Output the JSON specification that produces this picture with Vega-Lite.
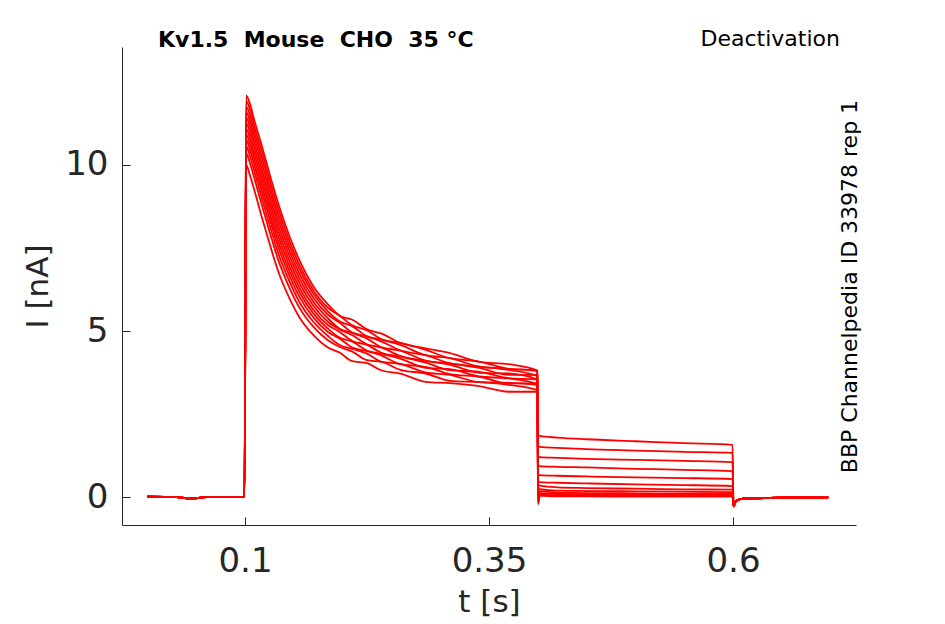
{
  "$schema": "https://vega.github.io/schema/vega-lite/v6.json",
  "width": 734,
  "height": 478,
  "autosize": "none",
  "padding": {"left": 122, "top": 47, "right": 89, "bottom": 99},
  "background": "white",
  "config": {
    "view": {"stroke": null},
    "font": "DejaVu Sans",
    "axis": {
      "grid": false,
      "domainColor": "#262626",
      "tickColor": "#262626",
      "labelColor": "#262626",
      "titleColor": "#262626",
      "labelFont": "DejaVu Sans",
      "titleFont": "DejaVu Sans",
      "labelFontSize": 34,
      "titleFontSize": 31,
      "titleFontWeight": "normal",
      "tickSize": -8,
      "domainWidth": 1,
      "tickWidth": 1
    }
  },
  "layer": [
    {
      "data": {"values": [
        {"s":1,"t":0,"v":0.01},{"s":1,"t":0.03,"v":0},{"s":1,"t":0.045,"v":-0.05},{"s":1,"t":0.06,"v":0},{"s":1,"t":0.0995,"v":0.01},
        {"s":1,"t":0.1012,"v":12.10},{"s":1,"t":0.105,"v":11.85},{"s":1,"t":0.11,"v":11.30},{"s":1,"t":0.118,"v":10.50},{"s":1,"t":0.126,"v":9.65},{"s":1,"t":0.134,"v":8.85},{"s":1,"t":0.145,"v":7.90},{"s":1,"t":0.156,"v":7.12},{"s":1,"t":0.17,"v":6.35},{"s":1,"t":0.185,"v":5.80},
        {"s":1,"t":0.197,"v":5.46},{"s":1,"t":0.21,"v":5.34},{"s":1,"t":0.225,"v":5.05},{"s":1,"t":0.24,"v":4.92},{"s":1,"t":0.259,"v":4.64},{"s":1,"t":0.285,"v":4.48},{"s":1,"t":0.31,"v":4.33},{"s":1,"t":0.34,"v":4.07},{"s":1,"t":0.37,"v":4.00},{"s":1,"t":0.3995,"v":3.81},
        {"s":1,"t":0.4003,"v":1.86},{"s":1,"t":0.402,"v":1.84},{"s":1,"t":0.42,"v":1.79},{"s":1,"t":0.45,"v":1.74},{"s":1,"t":0.5,"v":1.68},{"s":1,"t":0.55,"v":1.62},{"s":1,"t":0.5995,"v":1.57},
        {"s":1,"t":0.6005,"v":-0.28},{"s":1,"t":0.603,"v":-0.12},{"s":1,"t":0.61,"v":-0.05},{"s":1,"t":0.65,"v":-0.02},{"s":1,"t":0.6975,"v":-0.01},

        {"s":2,"t":0,"v":0.01},{"s":2,"t":0.03,"v":0},{"s":2,"t":0.045,"v":-0.05},{"s":2,"t":0.06,"v":0},{"s":2,"t":0.0995,"v":0.01},
        {"s":2,"t":0.1012,"v":11.93},{"s":2,"t":0.105,"v":11.68},{"s":2,"t":0.11,"v":11.13},{"s":2,"t":0.118,"v":10.33},{"s":2,"t":0.126,"v":9.48},{"s":2,"t":0.134,"v":8.69},{"s":2,"t":0.145,"v":7.75},{"s":2,"t":0.156,"v":6.98},{"s":2,"t":0.17,"v":6.23},{"s":2,"t":0.185,"v":5.70},
        {"s":2,"t":0.197,"v":5.46},{"s":2,"t":0.21,"v":5.17},{"s":2,"t":0.225,"v":5.02},{"s":2,"t":0.24,"v":4.75},{"s":2,"t":0.259,"v":4.64},{"s":2,"t":0.285,"v":4.43},{"s":2,"t":0.31,"v":4.18},{"s":2,"t":0.34,"v":4.08},{"s":2,"t":0.37,"v":3.86},{"s":2,"t":0.3995,"v":3.81},
        {"s":2,"t":0.4003,"v":1.53},{"s":2,"t":0.402,"v":1.51},{"s":2,"t":0.42,"v":1.48},{"s":2,"t":0.45,"v":1.44},{"s":2,"t":0.5,"v":1.40},{"s":2,"t":0.55,"v":1.36},{"s":2,"t":0.5995,"v":1.33},
        {"s":2,"t":0.6005,"v":-0.28},{"s":2,"t":0.603,"v":-0.12},{"s":2,"t":0.61,"v":-0.05},{"s":2,"t":0.65,"v":-0.02},{"s":2,"t":0.6975,"v":-0.01},

        {"s":3,"t":0,"v":0.01},{"s":3,"t":0.03,"v":0},{"s":3,"t":0.045,"v":-0.05},{"s":3,"t":0.06,"v":0},{"s":3,"t":0.0995,"v":0.01},
        {"s":3,"t":0.1012,"v":11.76},{"s":3,"t":0.105,"v":11.51},{"s":3,"t":0.11,"v":10.96},{"s":3,"t":0.118,"v":10.16},{"s":3,"t":0.126,"v":9.31},{"s":3,"t":0.134,"v":8.52},{"s":3,"t":0.145,"v":7.60},{"s":3,"t":0.156,"v":6.85},{"s":3,"t":0.17,"v":6.12},{"s":3,"t":0.185,"v":5.59},
        {"s":3,"t":0.197,"v":5.29},{"s":3,"t":0.21,"v":5.14},{"s":3,"t":0.225,"v":4.84},{"s":3,"t":0.24,"v":4.74},{"s":3,"t":0.259,"v":4.58},{"s":3,"t":0.285,"v":4.27},{"s":3,"t":0.31,"v":4.18},{"s":3,"t":0.34,"v":3.93},{"s":3,"t":0.37,"v":3.86},{"s":3,"t":0.3995,"v":3.79},
        {"s":3,"t":0.4003,"v":1.22},{"s":3,"t":0.402,"v":1.20},{"s":3,"t":0.42,"v":1.18},{"s":3,"t":0.45,"v":1.15},{"s":3,"t":0.5,"v":1.12},{"s":3,"t":0.55,"v":1.09},{"s":3,"t":0.5995,"v":1.05},
        {"s":3,"t":0.6005,"v":-0.28},{"s":3,"t":0.603,"v":-0.12},{"s":3,"t":0.61,"v":-0.05},{"s":3,"t":0.65,"v":-0.02},{"s":3,"t":0.6975,"v":-0.01},

        {"s":4,"t":0,"v":0.01},{"s":4,"t":0.03,"v":0},{"s":4,"t":0.045,"v":-0.05},{"s":4,"t":0.06,"v":0},{"s":4,"t":0.0995,"v":0.01},
        {"s":4,"t":0.1012,"v":11.60},{"s":4,"t":0.105,"v":11.33},{"s":4,"t":0.11,"v":10.80},{"s":4,"t":0.118,"v":9.98},{"s":4,"t":0.126,"v":9.15},{"s":4,"t":0.134,"v":8.36},{"s":4,"t":0.145,"v":7.45},{"s":4,"t":0.156,"v":6.71},{"s":4,"t":0.17,"v":6.00},{"s":4,"t":0.185,"v":5.49},
        {"s":4,"t":0.197,"v":5.25},{"s":4,"t":0.21,"v":4.95},{"s":4,"t":0.225,"v":4.84},{"s":4,"t":0.24,"v":4.68},{"s":4,"t":0.259,"v":4.42},{"s":4,"t":0.285,"v":4.27},{"s":4,"t":0.31,"v":4.03},{"s":4,"t":0.34,"v":3.93},{"s":4,"t":0.37,"v":3.83},{"s":4,"t":0.3995,"v":3.64},
        {"s":4,"t":0.4003,"v":0.95},{"s":4,"t":0.402,"v":0.93},{"s":4,"t":0.42,"v":0.91},{"s":4,"t":0.45,"v":0.89},{"s":4,"t":0.5,"v":0.85},{"s":4,"t":0.55,"v":0.82},{"s":4,"t":0.5995,"v":0.78},
        {"s":4,"t":0.6005,"v":-0.28},{"s":4,"t":0.603,"v":-0.12},{"s":4,"t":0.61,"v":-0.05},{"s":4,"t":0.65,"v":-0.02},{"s":4,"t":0.6975,"v":-0.01},

        {"s":5,"t":0,"v":0.01},{"s":5,"t":0.03,"v":0},{"s":5,"t":0.045,"v":-0.05},{"s":5,"t":0.06,"v":0},{"s":5,"t":0.0995,"v":0.01},
        {"s":5,"t":0.1012,"v":11.43},{"s":5,"t":0.105,"v":11.16},{"s":5,"t":0.11,"v":10.63},{"s":5,"t":0.118,"v":9.81},{"s":5,"t":0.126,"v":8.98},{"s":5,"t":0.134,"v":8.19},{"s":5,"t":0.145,"v":7.30},{"s":5,"t":0.156,"v":6.57},{"s":5,"t":0.17,"v":5.88},{"s":5,"t":0.185,"v":5.38},
        {"s":5,"t":0.197,"v":5.07},{"s":5,"t":0.21,"v":4.94},{"s":5,"t":0.225,"v":4.77},{"s":5,"t":0.24,"v":4.51},{"s":5,"t":0.259,"v":4.41},{"s":5,"t":0.285,"v":4.11},{"s":5,"t":0.31,"v":4.02},{"s":5,"t":0.34,"v":3.89},{"s":5,"t":0.37,"v":3.68},{"s":5,"t":0.3995,"v":3.68},
        {"s":5,"t":0.4003,"v":0.68},{"s":5,"t":0.402,"v":0.66},{"s":5,"t":0.42,"v":0.64},{"s":5,"t":0.45,"v":0.62},{"s":5,"t":0.5,"v":0.59},{"s":5,"t":0.55,"v":0.57},{"s":5,"t":0.5995,"v":0.54},
        {"s":5,"t":0.6005,"v":-0.28},{"s":5,"t":0.603,"v":-0.12},{"s":5,"t":0.61,"v":-0.05},{"s":5,"t":0.65,"v":-0.02},{"s":5,"t":0.6975,"v":-0.01},

        {"s":6,"t":0,"v":0.01},{"s":6,"t":0.03,"v":0},{"s":6,"t":0.045,"v":-0.05},{"s":6,"t":0.06,"v":0},{"s":6,"t":0.0995,"v":0.01},
        {"s":6,"t":0.1012,"v":11.26},{"s":6,"t":0.105,"v":10.99},{"s":6,"t":0.11,"v":10.46},{"s":6,"t":0.118,"v":9.64},{"s":6,"t":0.126,"v":8.81},{"s":6,"t":0.134,"v":8.03},{"s":6,"t":0.145,"v":7.15},{"s":6,"t":0.156,"v":6.43},{"s":6,"t":0.17,"v":5.76},{"s":6,"t":0.185,"v":5.28},
        {"s":6,"t":0.197,"v":5.05},{"s":6,"t":0.21,"v":4.87},{"s":6,"t":0.225,"v":4.60},{"s":6,"t":0.24,"v":4.50},{"s":6,"t":0.259,"v":4.25},{"s":6,"t":0.285,"v":4.10},{"s":6,"t":0.31,"v":3.98},{"s":6,"t":0.34,"v":3.74},{"s":6,"t":0.37,"v":3.72},{"s":6,"t":0.3995,"v":3.54},
        {"s":6,"t":0.4003,"v":0.48},{"s":6,"t":0.402,"v":0.45},{"s":6,"t":0.42,"v":0.43},{"s":6,"t":0.45,"v":0.41},{"s":6,"t":0.5,"v":0.38},{"s":6,"t":0.55,"v":0.36},{"s":6,"t":0.5995,"v":0.33},
        {"s":6,"t":0.6005,"v":-0.28},{"s":6,"t":0.603,"v":-0.12},{"s":6,"t":0.61,"v":-0.05},{"s":6,"t":0.65,"v":-0.02},{"s":6,"t":0.6975,"v":-0.01},

        {"s":7,"t":0,"v":0.01},{"s":7,"t":0.03,"v":0},{"s":7,"t":0.045,"v":-0.05},{"s":7,"t":0.06,"v":0},{"s":7,"t":0.0995,"v":0.01},
        {"s":7,"t":0.1012,"v":11.09},{"s":7,"t":0.105,"v":10.82},{"s":7,"t":0.11,"v":10.29},{"s":7,"t":0.118,"v":9.47},{"s":7,"t":0.126,"v":8.64},{"s":7,"t":0.134,"v":7.87},{"s":7,"t":0.145,"v":7.00},{"s":7,"t":0.156,"v":6.29},{"s":7,"t":0.17,"v":5.64},{"s":7,"t":0.185,"v":5.18},
        {"s":7,"t":0.197,"v":4.97},{"s":7,"t":0.21,"v":4.70},{"s":7,"t":0.225,"v":4.58},{"s":7,"t":0.24,"v":4.34},{"s":7,"t":0.259,"v":4.23},{"s":7,"t":0.285,"v":4.05},{"s":7,"t":0.31,"v":3.82},{"s":7,"t":0.34,"v":3.77},{"s":7,"t":0.37,"v":3.58},{"s":7,"t":0.3995,"v":3.54},
        {"s":7,"t":0.4003,"v":0.40},{"s":7,"t":0.402,"v":0.34},{"s":7,"t":0.42,"v":0.29},{"s":7,"t":0.45,"v":0.27},{"s":7,"t":0.5,"v":0.25},{"s":7,"t":0.55,"v":0.23},{"s":7,"t":0.5995,"v":0.22},
        {"s":7,"t":0.6005,"v":-0.28},{"s":7,"t":0.603,"v":-0.12},{"s":7,"t":0.61,"v":-0.05},{"s":7,"t":0.65,"v":-0.02},{"s":7,"t":0.6975,"v":-0.01},

        {"s":8,"t":0,"v":0.01},{"s":8,"t":0.03,"v":0},{"s":8,"t":0.045,"v":-0.05},{"s":8,"t":0.06,"v":0},{"s":8,"t":0.0995,"v":0.01},
        {"s":8,"t":0.1012,"v":10.92},{"s":8,"t":0.105,"v":10.65},{"s":8,"t":0.11,"v":10.12},{"s":8,"t":0.118,"v":9.30},{"s":8,"t":0.126,"v":8.47},{"s":8,"t":0.134,"v":7.70},{"s":8,"t":0.145,"v":6.85},{"s":8,"t":0.156,"v":6.16},{"s":8,"t":0.17,"v":5.53},{"s":8,"t":0.185,"v":5.07},
        {"s":8,"t":0.197,"v":4.80},{"s":8,"t":0.21,"v":4.68},{"s":8,"t":0.225,"v":4.41},{"s":8,"t":0.24,"v":4.31},{"s":8,"t":0.259,"v":4.17},{"s":8,"t":0.285,"v":3.89},{"s":8,"t":0.31,"v":3.85},{"s":8,"t":0.34,"v":3.63},{"s":8,"t":0.37,"v":3.57},{"s":8,"t":0.3995,"v":3.40},
        {"s":8,"t":0.4003,"v":0.30},{"s":8,"t":0.402,"v":0.24},{"s":8,"t":0.42,"v":0.19},{"s":8,"t":0.45,"v":0.18},{"s":8,"t":0.5,"v":0.17},{"s":8,"t":0.55,"v":0.16},{"s":8,"t":0.5995,"v":0.15},
        {"s":8,"t":0.6005,"v":-0.28},{"s":8,"t":0.603,"v":-0.12},{"s":8,"t":0.61,"v":-0.05},{"s":8,"t":0.65,"v":-0.02},{"s":8,"t":0.6975,"v":-0.01},

        {"s":9,"t":0,"v":0.01},{"s":9,"t":0.03,"v":0},{"s":9,"t":0.045,"v":-0.05},{"s":9,"t":0.06,"v":0},{"s":9,"t":0.0995,"v":0.01},
        {"s":9,"t":0.1012,"v":10.76},{"s":9,"t":0.105,"v":10.47},{"s":9,"t":0.11,"v":9.96},{"s":9,"t":0.118,"v":9.12},{"s":9,"t":0.126,"v":8.31},{"s":9,"t":0.134,"v":7.54},{"s":9,"t":0.145,"v":6.70},{"s":9,"t":0.156,"v":6.02},{"s":9,"t":0.17,"v":5.41},{"s":9,"t":0.185,"v":4.97},
        {"s":9,"t":0.197,"v":4.77},{"s":9,"t":0.21,"v":4.50},{"s":9,"t":0.225,"v":4.39},{"s":9,"t":0.24,"v":4.26},{"s":9,"t":0.259,"v":4.00},{"s":9,"t":0.285,"v":3.92},{"s":9,"t":0.31,"v":3.70},{"s":9,"t":0.34,"v":3.62},{"s":9,"t":0.37,"v":3.42},{"s":9,"t":0.3995,"v":3.42},
        {"s":9,"t":0.4003,"v":-0.10},{"s":9,"t":0.402,"v":0.18},{"s":9,"t":0.42,"v":0.13},{"s":9,"t":0.45,"v":0.12},{"s":9,"t":0.5,"v":0.11},{"s":9,"t":0.55,"v":0.10},{"s":9,"t":0.5995,"v":0.10},
        {"s":9,"t":0.6005,"v":-0.28},{"s":9,"t":0.603,"v":-0.12},{"s":9,"t":0.61,"v":-0.05},{"s":9,"t":0.65,"v":-0.02},{"s":9,"t":0.6975,"v":-0.01},

        {"s":10,"t":0,"v":0.01},{"s":10,"t":0.03,"v":0},{"s":10,"t":0.045,"v":-0.05},{"s":10,"t":0.06,"v":0},{"s":10,"t":0.0995,"v":0.01},
        {"s":10,"t":0.1012,"v":10.57},{"s":10,"t":0.105,"v":10.28},{"s":10,"t":0.11,"v":9.77},{"s":10,"t":0.118,"v":8.93},{"s":10,"t":0.126,"v":8.12},{"s":10,"t":0.134,"v":7.35},{"s":10,"t":0.145,"v":6.53},{"s":10,"t":0.156,"v":5.86},{"s":10,"t":0.17,"v":5.28},{"s":10,"t":0.185,"v":4.85},
        {"s":10,"t":0.197,"v":4.58},{"s":10,"t":0.21,"v":4.46},{"s":10,"t":0.225,"v":4.32},{"s":10,"t":0.24,"v":4.07},{"s":10,"t":0.259,"v":4.01},{"s":10,"t":0.285,"v":3.75},{"s":10,"t":0.31,"v":3.68},{"s":10,"t":0.34,"v":3.46},{"s":10,"t":0.37,"v":3.44},{"s":10,"t":0.3995,"v":3.37},
        {"s":10,"t":0.4003,"v":-0.14},{"s":10,"t":0.402,"v":0.12},{"s":10,"t":0.42,"v":0.09},{"s":10,"t":0.45,"v":0.08},{"s":10,"t":0.5,"v":0.07},{"s":10,"t":0.55,"v":0.07},{"s":10,"t":0.5995,"v":0.07},
        {"s":10,"t":0.6005,"v":-0.28},{"s":10,"t":0.603,"v":-0.12},{"s":10,"t":0.61,"v":-0.05},{"s":10,"t":0.65,"v":-0.02},{"s":10,"t":0.6975,"v":-0.01},

        {"s":11,"t":0,"v":0.01},{"s":11,"t":0.03,"v":0},{"s":11,"t":0.045,"v":-0.05},{"s":11,"t":0.06,"v":0},{"s":11,"t":0.0995,"v":0.01},
        {"s":11,"t":0.1012,"v":10.36},{"s":11,"t":0.105,"v":10.07},{"s":11,"t":0.11,"v":9.56},{"s":11,"t":0.118,"v":8.72},{"s":11,"t":0.126,"v":7.91},{"s":11,"t":0.134,"v":7.15},{"s":11,"t":0.145,"v":6.34},{"s":11,"t":0.156,"v":5.69},{"s":11,"t":0.17,"v":5.13},{"s":11,"t":0.185,"v":4.72},
        {"s":11,"t":0.197,"v":4.52},{"s":11,"t":0.21,"v":4.38},{"s":11,"t":0.225,"v":4.12},{"s":11,"t":0.24,"v":4.07},{"s":11,"t":0.259,"v":3.83},{"s":11,"t":0.285,"v":3.72},{"s":11,"t":0.31,"v":3.50},{"s":11,"t":0.34,"v":3.46},{"s":11,"t":0.37,"v":3.38},{"s":11,"t":0.3995,"v":3.22},
        {"s":11,"t":0.4003,"v":-0.18},{"s":11,"t":0.402,"v":0.08},{"s":11,"t":0.42,"v":0.05},{"s":11,"t":0.45,"v":0.05},{"s":11,"t":0.5,"v":0.04},{"s":11,"t":0.55,"v":0.04},{"s":11,"t":0.5995,"v":0.04},
        {"s":11,"t":0.6005,"v":-0.28},{"s":11,"t":0.603,"v":-0.12},{"s":11,"t":0.61,"v":-0.05},{"s":11,"t":0.65,"v":-0.02},{"s":11,"t":0.6975,"v":-0.01},

        {"s":12,"t":0,"v":0.01},{"s":12,"t":0.03,"v":0},{"s":12,"t":0.045,"v":-0.05},{"s":12,"t":0.06,"v":0},{"s":12,"t":0.0995,"v":0.01},
        {"s":12,"t":0.1012,"v":10.00},{"s":12,"t":0.105,"v":9.70},{"s":12,"t":0.11,"v":9.20},{"s":12,"t":0.118,"v":8.35},{"s":12,"t":0.126,"v":7.55},{"s":12,"t":0.134,"v":6.80},{"s":12,"t":0.145,"v":6.02},{"s":12,"t":0.156,"v":5.40},{"s":12,"t":0.17,"v":4.88},{"s":12,"t":0.185,"v":4.50},
        {"s":12,"t":0.197,"v":4.35},{"s":12,"t":0.21,"v":4.09},{"s":12,"t":0.225,"v":4.03},{"s":12,"t":0.24,"v":3.81},{"s":12,"t":0.259,"v":3.72},{"s":12,"t":0.285,"v":3.47},{"s":12,"t":0.31,"v":3.43},{"s":12,"t":0.34,"v":3.34},{"s":12,"t":0.37,"v":3.17},{"s":12,"t":0.3995,"v":3.17},
        {"s":12,"t":0.4003,"v":-0.22},{"s":12,"t":0.402,"v":0.04},{"s":12,"t":0.42,"v":0.02},{"s":12,"t":0.45,"v":0.02},{"s":12,"t":0.5,"v":0.01},{"s":12,"t":0.55,"v":0.01},{"s":12,"t":0.5995,"v":0.01},
        {"s":12,"t":0.6005,"v":-0.28},{"s":12,"t":0.603,"v":-0.12},{"s":12,"t":0.61,"v":-0.05},{"s":12,"t":0.65,"v":-0.02},{"s":12,"t":0.6975,"v":-0.01}
      ]},
      "mark": {"type": "line", "color": "#ff0000", "strokeWidth": 1.8, "interpolate": "monotone"},
      "encoding": {
        "x": {
          "field": "t",
          "type": "quantitative",
          "scale": {"domain": [-0.026, 0.726], "nice": false, "zero": false},
          "axis": {"values": [0.1, 0.35, 0.6], "format": "~g", "title": "t [s]", "labelPadding": 27, "titlePadding": 9}
        },
        "y": {
          "field": "v",
          "type": "quantitative",
          "scale": {"domain": [-0.843, 13.554], "nice": false, "zero": false},
          "axis": {"values": [0, 5, 10], "title": "I [nA]", "labelPadding": 22, "titlePadding": 10}
        },
        "detail": {"field": "s", "type": "nominal"}
      }
    },
    {
      "data": {"values": [{"label": "Kv1.5\u00a0 Mouse\u00a0 CHO\u00a0 35 °C", "t": 0.0109, "v": 13.765}]},
      "mark": {"type": "text", "align": "left", "baseline": "middle", "fontSize": 22, "fontWeight": "bold", "color": "black", "font": "DejaVu Sans"},
      "encoding": {
        "x": {"field": "t", "type": "quantitative"},
        "y": {"field": "v", "type": "quantitative"},
        "text": {"field": "label"}
      }
    },
    {
      "data": {"values": [{"label": "Deactivation", "t": 0.7096, "v": 13.8}]},
      "mark": {"type": "text", "align": "right", "baseline": "middle", "fontSize": 22, "color": "black", "font": "DejaVu Sans"},
      "encoding": {
        "x": {"field": "t", "type": "quantitative"},
        "y": {"field": "v", "type": "quantitative"},
        "text": {"field": "label"}
      }
    },
    {
      "data": {"values": [{"label": "BBP Channelpedia ID 33978 rep 1", "t": 0.7199, "v": 6.34}]},
      "mark": {"type": "text", "align": "center", "baseline": "middle", "angle": 270, "fontSize": 22, "color": "black", "font": "DejaVu Sans"},
      "encoding": {
        "x": {"field": "t", "type": "quantitative"},
        "y": {"field": "v", "type": "quantitative"},
        "text": {"field": "label"}
      }
    }
  ]
}
